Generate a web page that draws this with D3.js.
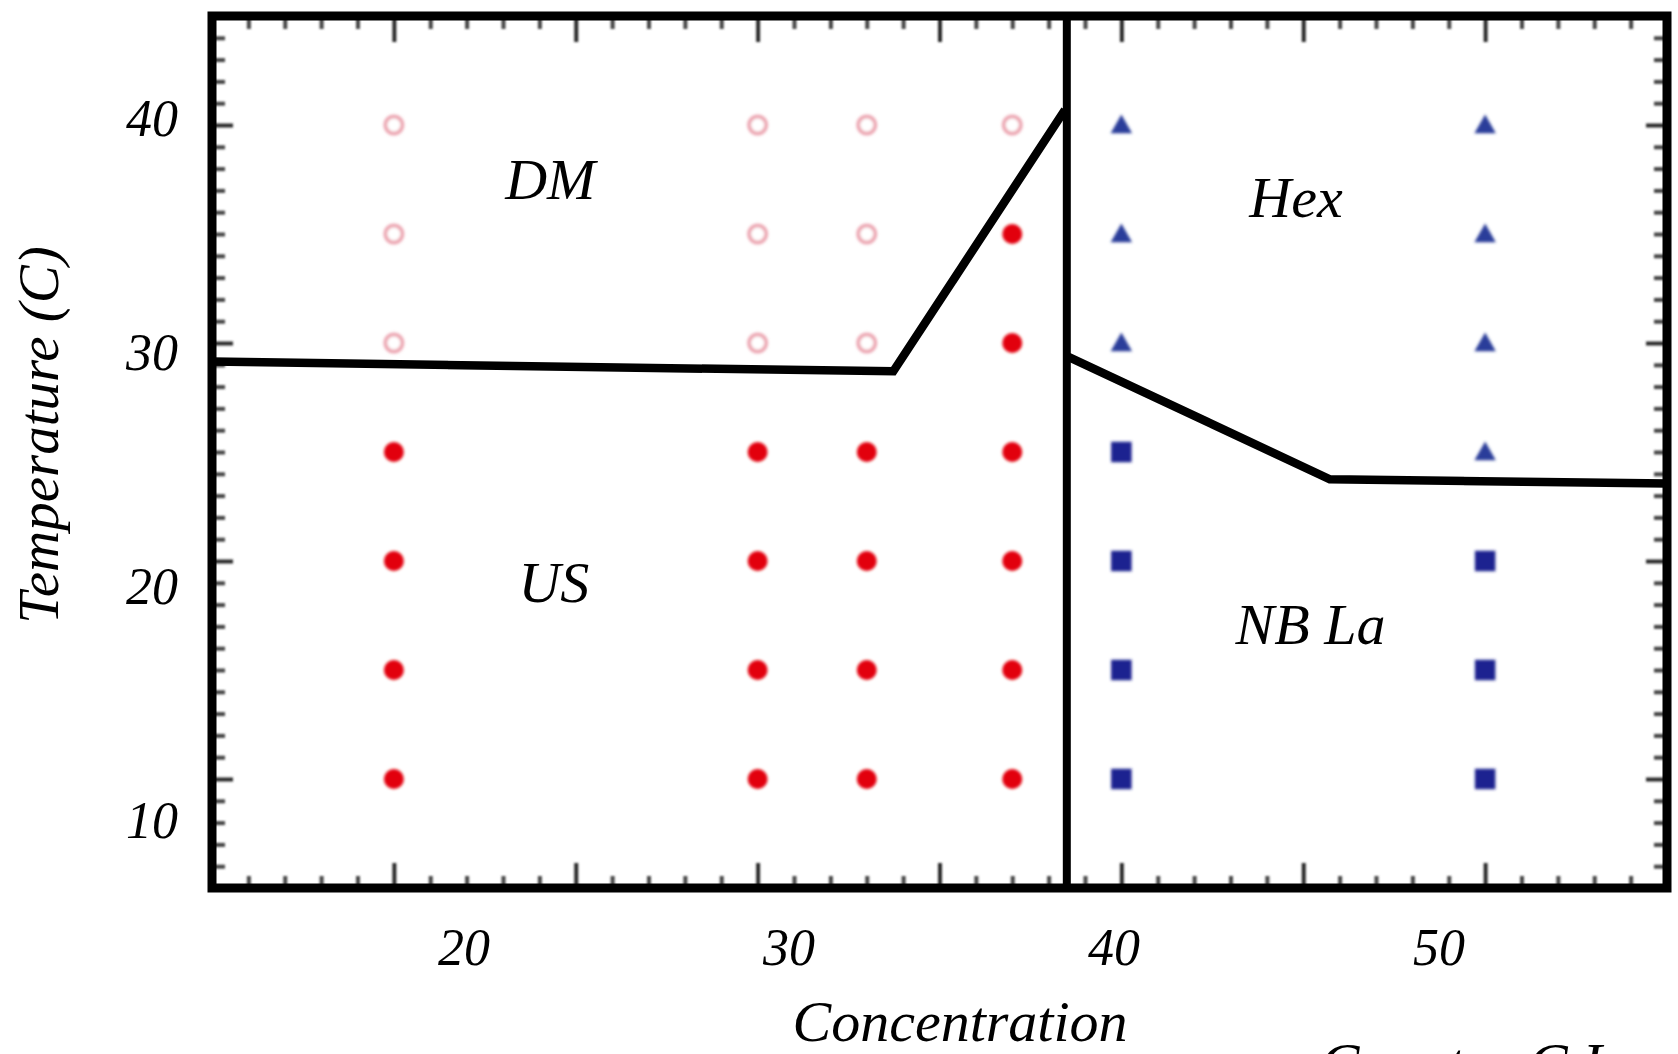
<!DOCTYPE html>
<html>
<head>
<meta charset="utf-8">
<script src="https://cdn.jsdelivr.net/npm/d3@7"></script>
<style>
  html, body { margin: 0; padding: 0; background: #fff; }
  svg { display: block; }
  text { font-family: "Liberation Serif", "Times New Roman", serif; font-style: italic; fill: #000; }
</style>
</head>
<body>
<svg id="chart" width="1678" height="1054"></svg>
<script>
// Sampled grid of the phase map
const concentrations = [20, 30, 33, 37, 40, 50];
const temperatures = [10, 15, 20, 25, 30, 35, 40];

// Phase observed at concentrations[i] (row) and temperatures[j] (column)
const phaseGrid = [
  ["US", "US", "US", "US", "DM", "DM", "DM"],
  ["US", "US", "US", "US", "DM", "DM", "DM"],
  ["US", "US", "US", "US", "DM", "DM", "DM"],
  ["US", "US", "US", "US", "US", "US", "DM"],
  ["NB", "NB", "NB", "NB", "Hex", "Hex", "Hex"],
  ["NB", "NB", "NB", "Hex", "Hex", "Hex", "Hex"]
];

// Phase boundaries, [concentration, temperature]
const boundaryUpper = [[15, 29.15], [33.73, 28.7], [38.45, 40.7]];
const boundaryLower = [[38.5, 29.4], [45.73, 23.75], [55, 23.55]];
const dividerConc = 38.5;

// Region names and where they sit
const regionNames = ["DM", "US", "Hex", "NB La"];
const regionConc = [24.3, 24.4, 44.8, 45.2];
const regionTemp = [36.6, 18.1, 35.8, 16.2];

// Axis labels
const xTickLabels = [20, 30, 40, 50];
const yTickLabels = [10, 20, 30, 40];
const xTitle = "Concentration";
const xTitle2 = "Counter C Ion";
const yTitle = "Temperature (C)";

const svg = d3.select("#chart");
const W = 1678, H = 1054;
svg.append("rect").attr("width", W).attr("height", H).attr("fill", "#fff");

const defs = svg.append("defs");
defs.append("filter").attr("id", "soft").attr("x", "-50%").attr("y", "-50%").attr("width", "200%").attr("height", "200%")
  .append("feGaussianBlur").attr("stdDeviation", 1.4);
defs.append("filter").attr("id", "softer").attr("x", "-10%").attr("y", "-10%").attr("width", "120%").attr("height", "120%")
  .append("feGaussianBlur").attr("stdDeviation", 1.0);
defs.append("filter").attr("id", "edge").attr("x", "-5%").attr("y", "-5%").attr("width", "110%").attr("height", "110%")
  .append("feGaussianBlur").attr("stdDeviation", 0.5);

// Plot scales
const x = d3.scaleLinear().domain([15, 55]).range([212, 1667]);
const y = d3.scaleLinear().domain([5, 45]).range([888, 16]);

// Scales carrying the printed tick numbers
const xLab = d3.scaleLinear().domain([15, 55]).range([301, 1601]);
const yLab = d3.scaleLinear().domain([5, 45]).range([938, 2]);

// Tick marks on all four frame sides, pointing inward
const xMinor = d3.range(16, 55).filter(v => v % 5 !== 0);
const xMajor = d3.range(20, 55, 5);
const yMinor = d3.range(6, 45).filter(v => v % 10 !== 0);
const yMajor = [10, 20, 30, 40];

const tickLayer = svg.append("g").attr("filter", "url(#softer)");
function tickAxis(axisFn, scale, values, len, tx, ty, color) {
  const g = tickLayer.append("g")
    .attr("transform", `translate(${tx},${ty})`)
    .call(axisFn(scale).tickValues(values).tickSize(len).tickFormat(""));
  g.select(".domain").remove();
  g.selectAll(".tick line").attr("stroke", color).attr("stroke-width", 4);
}
tickAxis(d3.axisTop, x, xMinor, 12, 0, y.range()[0], "#444");
tickAxis(d3.axisTop, x, xMajor, 25, 0, y.range()[0], "#2a2a2a");
tickAxis(d3.axisBottom, x, xMinor, 13, 0, y.range()[1], "#444");
tickAxis(d3.axisBottom, x, xMajor, 26, 0, y.range()[1], "#2a2a2a");
tickAxis(d3.axisRight, y, yMinor, 13, x.range()[0], 0, "#444");
tickAxis(d3.axisRight, y, yMajor, 21, x.range()[0], 0, "#2a2a2a");
tickAxis(d3.axisLeft, y, yMinor, 13, x.range()[1], 0, "#444");
tickAxis(d3.axisLeft, y, yMajor, 21, x.range()[1], 0, "#2a2a2a");

// Sample markers
const points = [];
concentrations.forEach((c, i) => temperatures.forEach((t, j) => points.push({ c, t, phase: phaseGrid[i][j] })));

const markers = svg.append("g").attr("filter", "url(#soft)");
markers.selectAll("circle.dm").data(points.filter(p => p.phase === "DM")).join("circle")
  .attr("class", "dm")
  .attr("cx", d => x(d.c)).attr("cy", d => y(d.t)).attr("r", 8.5)
  .attr("fill", "#fff").attr("stroke", "#e27587").attr("stroke-width", 4).attr("opacity", 0.65);
markers.selectAll("circle.us").data(points.filter(p => p.phase === "US")).join("circle")
  .attr("class", "us")
  .attr("cx", d => x(d.c)).attr("cy", d => y(d.t)).attr("r", 10)
  .attr("fill", "#e2000e");
markers.selectAll("path.hex").data(points.filter(p => p.phase === "Hex")).join("path")
  .attr("class", "hex")
  .attr("transform", d => `translate(${x(d.c)},${y(d.t) + 2})`)
  .attr("d", d3.symbol(d3.symbolTriangle, 200))
  .attr("fill", "#2a3d9a");
markers.selectAll("path.nb").data(points.filter(p => p.phase === "NB")).join("path")
  .attr("class", "nb")
  .attr("transform", d => `translate(${x(d.c)},${y(d.t)})`)
  .attr("d", d3.symbol(d3.symbolSquare, 420))
  .attr("fill", "#1a2290");

// Phase boundaries and the vertical divider
const line = d3.line().x(d => x(d[0])).y(d => y(d[1]));
const lines = svg.append("g").attr("filter", "url(#edge)");
[boundaryUpper, boundaryLower].forEach(b => {
  lines.append("path").attr("d", line(b))
    .attr("fill", "none").attr("stroke", "#000").attr("stroke-width", 8.5)
    .attr("stroke-linejoin", "miter");
});
lines.append("line")
  .attr("x1", x(dividerConc)).attr("x2", x(dividerConc))
  .attr("y1", y(45)).attr("y2", y(5))
  .attr("stroke", "#000").attr("stroke-width", 8);

// Frame
lines.append("rect")
  .attr("x", x(15)).attr("y", y(45))
  .attr("width", x(55) - x(15)).attr("height", y(5) - y(45))
  .attr("fill", "none").attr("stroke", "#000").attr("stroke-width", 9);

// Region names
svg.append("g").selectAll("text").data(regionNames).join("text")
  .attr("x", (d, i) => x(regionConc[i]))
  .attr("y", (d, i) => y(regionTemp[i]))
  .attr("text-anchor", "middle")
  .attr("font-size", 58)
  .text(d => d);

// Printed tick numbers
const xLabAxis = svg.append("g")
  .attr("transform", `translate(0,${y.range()[0]})`)
  .call(d3.axisBottom(xLab).tickValues(xTickLabels).tickSize(0).tickPadding(40).tickFormat(d3.format("d")));
xLabAxis.select(".domain").remove();
xLabAxis.selectAll("text").attr("font-size", 52).attr("font-family", null).style("font-family", "'Liberation Serif', serif");

const yLabAxis = svg.append("g")
  .attr("transform", `translate(${x.range()[0]},0)`)
  .call(d3.axisLeft(yLab).tickValues(yTickLabels).tickSize(0).tickPadding(34).tickFormat(d3.format("d")));
yLabAxis.select(".domain").remove();
yLabAxis.selectAll("text").attr("font-size", 52).attr("font-family", null).style("font-family", "'Liberation Serif', serif");

// Axis titles
svg.append("text")
  .attr("transform", "translate(58,435) rotate(-90)")
  .attr("text-anchor", "middle")
  .attr("font-size", 57)
  .text(yTitle);
svg.append("text")
  .attr("x", 960).attr("y", 1041)
  .attr("text-anchor", "middle")
  .attr("font-size", 58)
  .text(xTitle);
svg.append("text")
  .attr("x", 1320).attr("y", 1084)
  .attr("font-size", 59)
  .text(xTitle2);
</script>
</body>
</html>
